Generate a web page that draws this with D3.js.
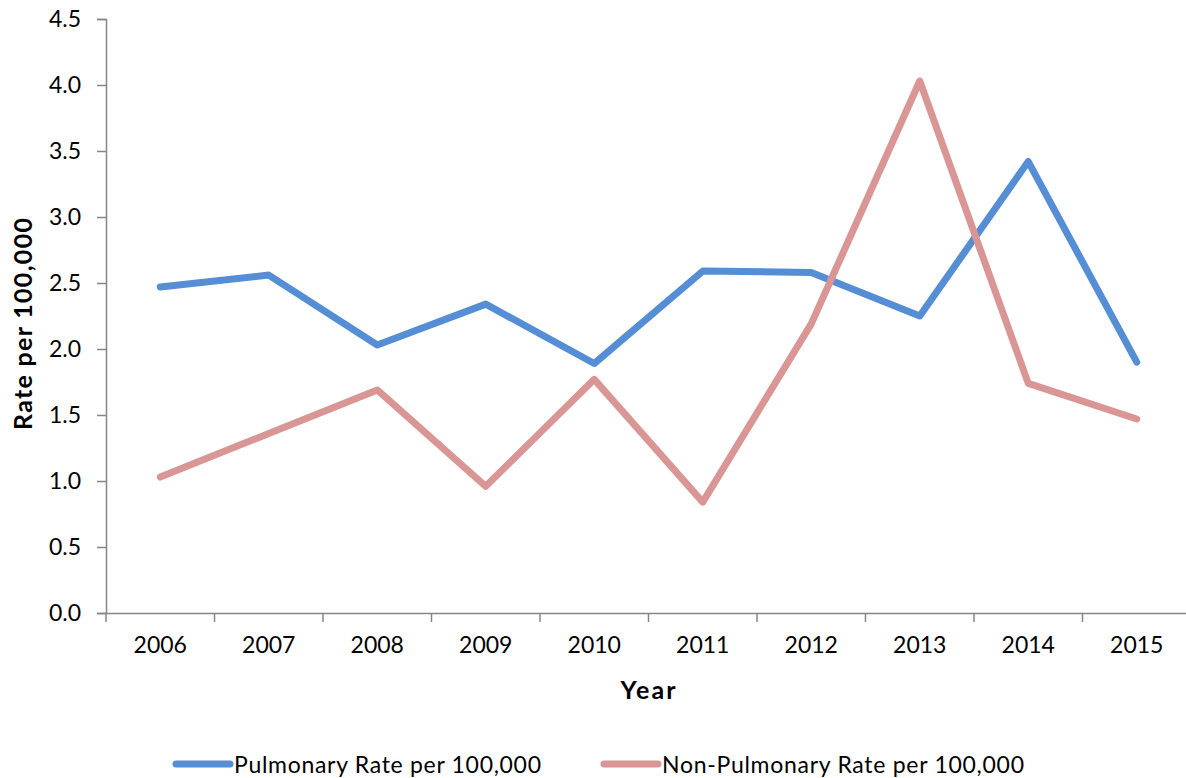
<!DOCTYPE html>
<html><head><meta charset="utf-8">
<script src="https://cdn.jsdelivr.net/npm/d3@7"></script>
<style>
body{margin:0;background:#fff;}
svg{display:block;font-family:Lato, "Open Sans", sans-serif;}
</style></head>
<body><svg id="c" width="1186" height="778"></svg>
<script>
const years = ["2006","2007","2008","2009","2010","2011","2012","2013","2014","2015"];
const pulmonary = [2.47,2.56,2.03,2.34,1.89,2.59,2.58,2.25,3.42,1.90];
const nonPulmonary = [1.03,1.36,1.69,0.96,1.77,0.84,2.19,4.03,1.74,1.47];
const yTicks = [0,0.5,1.0,1.5,2.0,2.5,3.0,3.5,4.0,4.5];
const seriesNames = ["Pulmonary Rate per 100,000","Non-Pulmonary Rate per 100,000"];
const colors = ["#558ED5","#D99694"];

const svg = d3.select("#c");
const mLeft = 106, mRight = 1191, mTop = 19, mBottom = 613;
const x = d3.scaleBand().domain(years).range([mLeft,mRight]);
const y = d3.scaleLinear().domain([0,4.5]).range([mBottom,mTop]);
const axisColor = "#868686";

// Y axis
const ya = svg.append("g").attr("transform",`translate(${mLeft},0)`)
  .call(d3.axisLeft(y).tickValues(yTicks).tickFormat(d3.format(".1f")).tickSize(9).tickPadding(16));
ya.select(".domain").attr("stroke",axisColor).attr("stroke-width",1.5);
ya.selectAll(".tick line").attr("stroke",axisColor).attr("stroke-width",1.5);
ya.selectAll(".tick text").attr("font-size",23).attr("fill","#000").attr("font-family","Lato");

// X axis
const xa = svg.append("g").attr("transform",`translate(0,${mBottom})`)
  .call(d3.axisBottom(x).tickSize(0).tickPadding(24));
xa.select(".domain").attr("stroke",axisColor).attr("stroke-width",1.5);
xa.selectAll(".tick text").attr("font-size",23).attr("fill","#000").attr("font-family","Lato");
// band boundary ticks
const bounds = years.map(d=>x(d)).concat([mRight]);
svg.append("g").selectAll("line").data(bounds).join("line")
  .attr("x1",d=>d).attr("x2",d=>d).attr("y1",mBottom).attr("y2",mBottom+9)
  .attr("stroke",axisColor).attr("stroke-width",1.5);

// Lines
const line = d3.line().x((d,i)=>x(years[i])+x.bandwidth()/2).y(d=>y(d));
[pulmonary,nonPulmonary].forEach((s,k)=>{
  svg.append("path").datum(s).attr("d",line).attr("fill","none")
    .attr("stroke",colors[k]).attr("stroke-width",7)
    .attr("stroke-linecap","round").attr("stroke-linejoin","round");
});

// Axis titles
svg.append("text").attr("x",648).attr("y",699).attr("text-anchor","middle")
  .attr("font-size",25).attr("font-weight","bold")
  .attr("textLength",55).attr("lengthAdjust","spacing").text("Year");
svg.append("text").attr("transform","translate(32,324) rotate(-90)").attr("text-anchor","middle")
  .attr("font-size",25).attr("font-weight","bold")
  .attr("textLength",212).attr("lengthAdjust","spacing").text("Rate per 100,000");

// Legend
const lg = svg.append("g");
const legX = [173, 601];
const legLen = [307, 362];
seriesNames.forEach((n,k)=>{
  lg.append("line").attr("x1",legX[k]+3).attr("x2",legX[k]+57).attr("y1",764).attr("y2",764)
    .attr("stroke",colors[k]).attr("stroke-width",7).attr("stroke-linecap","round");
  lg.append("text").attr("x",legX[k]+61).attr("y",773).attr("font-size",23)
    .attr("textLength",legLen[k]).attr("lengthAdjust","spacing").text(n);
});
</script></body></html>
